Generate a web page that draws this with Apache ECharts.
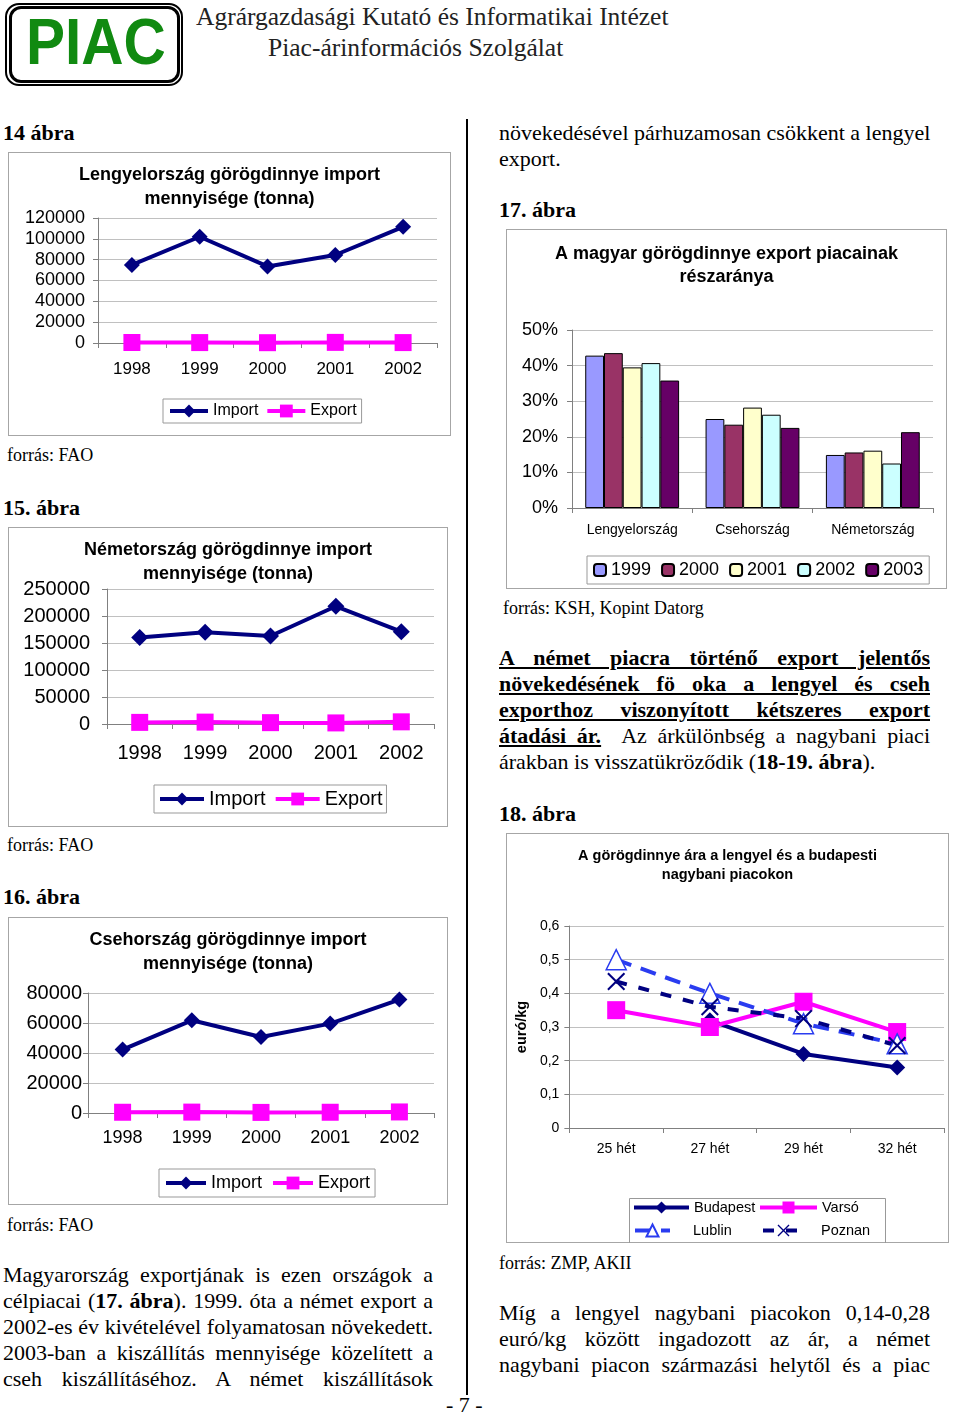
<!DOCTYPE html>
<html>
<head>
<meta charset="utf-8">
<script src="https://cdn.jsdelivr.net/npm/echarts@6/dist/echarts.min.js"></script>
<style>
body{margin:0;width:960px;height:1414px;position:relative;background:#fff;overflow:hidden;font-family:'Liberation Serif','Times New Roman',serif;color:#000}
.t{position:absolute;font-size:22px;line-height:26px;white-space:nowrap}
.j{text-align:justify;text-align-last:justify}
.L{left:3px;width:430px}
.R{left:499px;width:431px}
.src{font-size:18px;line-height:22px}
.chart{position:absolute;outline:1px solid #a6a6a6;outline-offset:-1px}
u b, b u{text-decoration:underline}
</style>
</head>
<body>
<!-- header -->
<div style="position:absolute;left:5px;top:3px;width:178px;height:83px;box-sizing:border-box;border:2px solid #000;border-radius:14px"></div>
<div style="position:absolute;left:9px;top:6px;width:171px;height:77px;box-sizing:border-box;border:3px solid #000;border-radius:12px"></div>
<div style="position:absolute;left:26px;top:4px;font-family:'Liberation Sans',Arial,sans-serif;font-weight:bold;font-size:65px;line-height:75px;color:#118a11;transform:scaleX(0.9);transform-origin:left top">PIAC</div>
<div style="position:absolute;left:196px;top:2px;font-size:25.5px;line-height:30px;color:#222;white-space:nowrap">Agrárgazdasági Kutató és Informatikai Intézet</div>
<div style="position:absolute;left:268px;top:33px;font-size:25.5px;line-height:30px;color:#222;white-space:nowrap">Piac-árinformációs Szolgálat</div>

<!-- divider -->
<div style="position:absolute;left:466px;top:119px;width:2px;height:1276px;background:#000"></div>

<!-- left column texts -->
<div class="t" style="left:3px;top:120px"><b>14 ábra</b></div>
<div class="t src" style="left:7px;top:444px">forrás: FAO</div>
<div class="t" style="left:3px;top:495px"><b>15. ábra</b></div>
<div class="t src" style="left:7px;top:834px">forrás: FAO</div>
<div class="t" style="left:3px;top:884px"><b>16. ábra</b></div>
<div class="t src" style="left:7px;top:1214px">forrás: FAO</div>

<div class="t L j" style="top:1262px">Magyarország exportjának is ezen országok a</div>
<div class="t L j" style="top:1288px">célpiacai (<b>17. ábra</b>). 1999. óta a német export a</div>
<div class="t L j" style="top:1314px">2002-es év kivételével folyamatosan növekedett.</div>
<div class="t L j" style="top:1340px">2003-ban a kiszállítás mennyisége közelített a</div>
<div class="t L j" style="top:1366px">cseh kiszállításéhoz. A német kiszállítások</div>

<!-- right column texts -->
<div class="t R j" style="top:120px">növekedésével párhuzamosan csökkent a lengyel</div>
<div class="t" style="left:499px;top:146px">export.</div>
<div class="t" style="left:499px;top:197px"><b>17. ábra</b></div>
<div class="t src" style="left:503px;top:597px">forrás: KSH, Kopint Datorg</div>

<div class="t R j" style="top:645px"><b><u>A német piacra történő export jelentős</u></b></div>
<div class="t R j" style="top:671px"><b><u>növekedésének fö oka a lengyel és cseh</u></b></div>
<div class="t R j" style="top:697px"><b><u>exporthoz viszonyított kétszeres export</u></b></div>
<div class="t R j" style="top:723px"><b><u>átadási ár.</u></b>&nbsp; Az árkülönbség a nagybani piaci</div>
<div class="t" style="left:499px;top:749px">árakban is visszatükröződik (<b>18-19. ábra</b>).</div>
<div class="t" style="left:499px;top:801px"><b>18. ábra</b></div>
<div class="t src" style="left:499px;top:1252px">forrás: ZMP, AKII</div>

<div class="t R j" style="top:1300px">Míg a lengyel nagybani piacokon 0,14-0,28</div>
<div class="t R j" style="top:1326px">euró/kg között ingadozott az ár, a német</div>
<div class="t R j" style="top:1352px">nagybani piacon származási helytől és a piac</div>

<div class="t" style="left:446px;top:1392px">- 7 -</div>

<!-- charts -->
<div id="c14" class="chart" style="left:8px;top:152px;width:443px;height:284px"></div>
<div id="c15" class="chart" style="left:8px;top:527px;width:440px;height:300px"></div>
<div id="c16" class="chart" style="left:8px;top:917px;width:440px;height:288px"></div>
<div id="c17" class="chart" style="left:506px;top:229px;width:441px;height:360px"></div>
<div id="c18" class="chart" style="left:506px;top:833px;width:443px;height:410px"></div>

<script>
// ---------- data ----------
const years = ['1998', '1999', '2000', '2001', '2002'];
const plImport = [75000, 102000, 73500, 84500, 111500];
const plExport = [500, 400, 300, 600, 400];
const deImport = [160000, 170000, 163000, 218000, 171000];
const deExport = [3000, 3500, 2500, 2000, 4000];
const czImport = [42300, 61800, 50700, 59600, 75600];
const czExport = [500, 600, 400, 500, 700];

const markets = ['Lengyelország', 'Csehország', 'Németország'];
const shareYears = ['1999', '2000', '2001', '2002', '2003'];
const share1999 = [42.8, 25.0, 14.9];
const share2000 = [43.5, 23.4, 15.6];
const share2001 = [39.5, 28.2, 16.1];
const share2002 = [40.7, 26.2, 12.5];
const share2003 = [35.8, 22.5, 21.3];

const weeks = ['25 hét', '27 hét', '29 hét', '32 hét'];
const budapest = [null, 0.32, 0.22, 0.18];
const varso = [0.35, 0.30, 0.375, 0.285];
const lublin = [0.50, 0.40, 0.31, 0.25];
const poznan = [0.435, 0.36, 0.325, 0.245];

// ---------- helpers ----------
const FONT = "'Liberation Sans', Arial, sans-serif";
const AXIS = '#808080';
const GRID = '#c0c0c0';

function importExport(p) {
  return {
    animation: false,
    title: {
      text: p.title, left: 'center', top: p.titleTop,
      textStyle: {fontFamily: FONT, fontSize: 18, fontWeight: 'bold', lineHeight: 24, color: '#000'}
    },
    grid: p.grid,
    xAxis: {
      type: 'category', data: years,
      axisLine: {lineStyle: {color: AXIS, width: 1}},
      axisTick: {show: true, length: 5, lineStyle: {color: AXIS}},
      axisLabel: {color: '#000', fontFamily: FONT, fontSize: p.xFont, margin: p.xMargin}
    },
    yAxis: {
      type: 'value', min: 0, max: p.max, interval: p.interval,
      axisLine: {show: true, lineStyle: {color: AXIS}},
      axisTick: {show: true, length: 5, lineStyle: {color: AXIS}},
      splitLine: {lineStyle: {color: GRID}},
      axisLabel: {color: '#000', fontFamily: FONT, fontSize: p.yFont, margin: p.yMargin,
        formatter: v => String(v)}
    },
    legend: {
      left: p.lg.left, top: p.lg.top, data: ['Import', 'Export'],
      itemWidth: p.lg.iw, itemHeight: 16, itemGap: p.lg.gap, padding: p.lg.pad,
      borderColor: '#999', borderWidth: 1, borderRadius: 0,
      lineStyle: {width: 4},
      textStyle: {fontFamily: FONT, fontSize: p.lg.fs, color: '#000'}
    },
    series: [
      {name: 'Import', type: 'line', data: p.imp, symbol: 'diamond', symbolSize: p.ds,
       lineStyle: {width: 4, color: '#000080'}, itemStyle: {color: '#000080'}},
      {name: 'Export', type: 'line', data: p.exp, symbol: 'rect', symbolSize: p.ss,
       lineStyle: {width: 4, color: '#FF00FF'}, itemStyle: {color: '#FF00FF'}}
    ]
  };
}

// ---------- chart 14 ----------
echarts.init(document.getElementById('c14')).setOption(importExport({
  title: 'Lengyelország görögdinnye import\nmennyisége (tonna)', titleTop: 6,
  grid: {left: 90, right: 14, top: 66, bottom: 93},
  max: 120000, interval: 20000, yFont: 18, yMargin: 13, xFont: 17, xMargin: 18,
  lg: {left: 155, top: 247, iw: 38, gap: 7, pad: [4, 5], fs: 16},
  imp: plImport, exp: plExport, ds: 16, ss: 17
}));

// ---------- chart 15 ----------
echarts.init(document.getElementById('c15')).setOption(importExport({
  title: 'Németország görögdinnye import\nmennyisége (tonna)', titleTop: 6,
  grid: {left: 99, right: 14, top: 62, bottom: 103},
  max: 250000, interval: 50000, yFont: 20, yMargin: 17, xFont: 20, xMargin: 19,
  lg: {left: 146, top: 258, iw: 44, gap: 8, pad: [4, 4], fs: 20},
  imp: deImport, exp: deExport, ds: 17, ss: 17
}));

// ---------- chart 16 ----------
echarts.init(document.getElementById('c16')).setOption(importExport({
  title: 'Csehország görögdinnye import\nmennyisége (tonna)', titleTop: 6,
  grid: {left: 80, right: 14, top: 76, bottom: 92},
  max: 80000, interval: 20000, yFont: 20, yMargin: 6, xFont: 18, xMargin: 16,
  lg: {left: 151, top: 252, iw: 40, gap: 9, pad: [5, 5], fs: 18},
  imp: czImport, exp: czExport, ds: 16, ss: 17
}));

// ---------- chart 17 ----------
const barColors = ['#9999FF', '#993366', '#FFFFCC', '#CCFFFF', '#660066'];
const shares = [share1999, share2000, share2001, share2002, share2003];
echarts.init(document.getElementById('c17')).setOption({
  animation: false,
  title: {
    text: 'A magyar görögdinnye export piacainak\nrészaránya', left: 'center', top: 9,
    textStyle: {fontFamily: FONT, fontSize: 18, fontWeight: 'bold', lineHeight: 23, color: '#000'}
  },
  grid: {left: 66, right: 14, top: 101, bottom: 81},
  xAxis: {
    type: 'category', data: markets,
    axisLine: {lineStyle: {color: AXIS}},
    axisTick: {show: true, length: 5, lineStyle: {color: AXIS}},
    axisLabel: {color: '#000', fontFamily: FONT, fontSize: 14, margin: 15}
  },
  yAxis: {
    type: 'value', min: 0, max: 50, interval: 10,
    axisLine: {show: true, lineStyle: {color: AXIS}},
    axisTick: {show: true, length: 5, lineStyle: {color: AXIS}},
    splitLine: {lineStyle: {color: GRID}},
    axisLabel: {color: '#000', fontFamily: FONT, fontSize: 18, margin: 14, formatter: '{value}%'}
  },
  legend: {
    left: 81, top: 327, data: shareYears,
    itemWidth: 12, itemHeight: 12, itemGap: 10, padding: [5, 6],
    borderColor: '#999', borderWidth: 1,
    textStyle: {fontFamily: FONT, fontSize: 18, color: '#000'}
  },
  series: shareYears.map((y, i) => ({
    name: y, type: 'bar', data: shares[i],
    barGap: '0%', barCategoryGap: '22%',
    itemStyle: {color: barColors[i], borderColor: '#000', borderWidth: 1}
  }))
});

// ---------- chart 18 ----------
const LUBLIN = '#2a3cf0';
const xSym = 'path://M0,1.6L1.6,0L10,8.4L18.4,0L20,1.6L11.6,10L20,18.4L18.4,20L10,11.6L1.6,20L0,18.4L8.4,10Z';
function lg18(name, left, top, iw, padLeft) {
  return {
    data: [name], left: left, top: top, itemWidth: iw, itemHeight: 15, padding: 0,
    lineStyle: {width: 4},
    textStyle: {fontFamily: FONT, fontSize: 14.5, color: '#000', padding: [0, 0, 0, padLeft]}
  };
}
echarts.init(document.getElementById('c18')).setOption({
  animation: false,
  title: {
    text: 'A görögdinnye ára a lengyel és a budapesti\nnagybani piacokon', left: 'center', top: 8,
    textStyle: {fontFamily: FONT, fontSize: 14.5, fontWeight: 'bold', lineHeight: 19, color: '#000'}
  },
  grid: {left: 61, right: 5, top: 93, bottom: 115},
  xAxis: {
    type: 'category', data: weeks,
    axisLine: {lineStyle: {color: AXIS}},
    axisTick: {show: true, length: 5, lineStyle: {color: AXIS}},
    axisLabel: {color: '#000', fontFamily: FONT, fontSize: 14, margin: 14}
  },
  yAxis: {
    type: 'value', min: 0, max: 0.6, interval: 0.1,
    name: 'euró/kg', nameLocation: 'middle', nameGap: 38, nameRotate: 90,
    nameTextStyle: {fontFamily: FONT, fontSize: 14.5, fontWeight: 'bold', color: '#000'},
    axisLine: {show: true, lineStyle: {color: AXIS}},
    axisTick: {show: true, length: 5, lineStyle: {color: AXIS}},
    splitLine: {lineStyle: {color: GRID}},
    axisLabel: {color: '#000', fontFamily: FONT, fontSize: 14, margin: 10,
      formatter: v => v === 0 ? '0' : v.toFixed(1).replace('.', ',')}
  },
  legend: [
    lg18('Budapest', 126, 367, 55, 0),
    lg18('Varsó', 252, 367, 57, 0),
    lg18('Lublin', 127, 390, 35, 18),
    lg18('Poznan', 255, 390, 41, 12)
  ],
  graphic: [{
    type: 'rect', left: 121, top: 363, shape: {width: 256, height: 46},
    style: {fill: 'none', stroke: '#999', lineWidth: 1}, silent: true
  }],
  series: [
    {name: 'Budapest', type: 'line', data: budapest, symbol: 'diamond', symbolSize: 16,
     lineStyle: {width: 4, color: '#000080'}, itemStyle: {color: '#000080'}},
    {name: 'Varsó', type: 'line', data: varso, symbol: 'rect', symbolSize: 18,
     lineStyle: {width: 4, color: '#FF00FF'}, itemStyle: {color: '#FF00FF'}},
    {name: 'Lublin', type: 'line', data: lublin, symbol: 'triangle', symbolSize: 20,
     lineStyle: {width: 4, color: LUBLIN, type: [16, 10]},
     itemStyle: {color: '#fff', borderColor: LUBLIN, borderWidth: 1.5}},
    {name: 'Poznan', type: 'line', data: poznan, symbol: xSym, symbolSize: 18,
     lineStyle: {width: 4, color: '#000080', type: [11, 12]},
     itemStyle: {color: '#000080'}}
  ]
});
</script>
</body>
</html>
